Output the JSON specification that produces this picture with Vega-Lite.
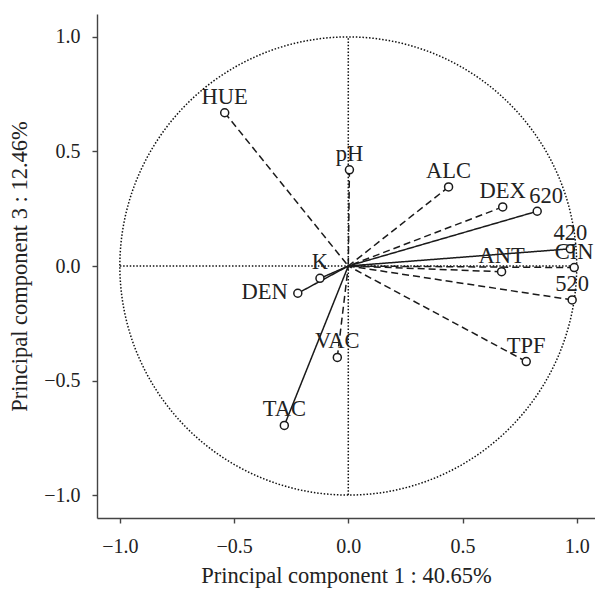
{
  "$schema": "https://vega.github.io/schema/vega-lite/v6.json",
  "autosize": "none",
  "padding": {"left": 97, "top": 14, "right": 0, "bottom": 76},
  "width": 498,
  "height": 504,
  "background": "white",
  "config": {
    "view": {"stroke": null},
    "font": "Liberation Serif",
    "axis": {
      "grid": false,
      "domainColor": "#444",
      "domainWidth": 1.4,
      "tickColor": "#444",
      "tickWidth": 1.4,
      "tickSize": 5,
      "labelFont": "Liberation Serif",
      "labelFontSize": 20,
      "labelColor": "#222",
      "titleFont": "Liberation Serif",
      "titleFontSize": 22.5,
      "titleFontWeight": "normal",
      "titleColor": "#222"
    }
  },
  "datasets": {
    "vars": [
      {"name": "HUE", "pc1": -0.541, "pc3": 0.669, "group": "B", "pos": "top"},
      {"name": "pH", "pc1": 0.005, "pc3": 0.42, "group": "B", "pos": "top"},
      {"name": "ALC", "pc1": 0.439, "pc3": 0.345, "group": "B", "pos": "top"},
      {"name": "DEX", "pc1": 0.676, "pc3": 0.258, "group": "B", "pos": "top"},
      {"name": "620", "pc1": 0.827, "pc3": 0.239, "group": "A", "pos": "topright"},
      {"name": "420", "pc1": 0.972, "pc3": 0.075, "group": "A", "pos": "top"},
      {"name": "CIN", "pc1": 0.989, "pc3": -0.007, "group": "B", "pos": "top"},
      {"name": "ANT", "pc1": 0.671, "pc3": -0.025, "group": "B", "pos": "top"},
      {"name": "520", "pc1": 0.98, "pc3": -0.148, "group": "B", "pos": "top"},
      {"name": "TPF", "pc1": 0.779, "pc3": -0.417, "group": "B", "pos": "top"},
      {"name": "VAC", "pc1": -0.048, "pc3": -0.399, "group": "B", "pos": "top"},
      {"name": "TAC", "pc1": -0.28, "pc3": -0.696, "group": "A", "pos": "top"},
      {"name": "K", "pc1": -0.124, "pc3": -0.054, "group": "A", "pos": "top"},
      {"name": "DEN", "pc1": -0.221, "pc3": -0.119, "group": "A", "pos": "left"}
    ],
    "circle": [
      {"a": 0, "cx": 1, "cy": 0},
      {"a": 10, "cx": 0.9848, "cy": 0.1736},
      {"a": 20, "cx": 0.9397, "cy": 0.342},
      {"a": 30, "cx": 0.866, "cy": 0.5},
      {"a": 40, "cx": 0.766, "cy": 0.6428},
      {"a": 50, "cx": 0.6428, "cy": 0.766},
      {"a": 60, "cx": 0.5, "cy": 0.866},
      {"a": 70, "cx": 0.342, "cy": 0.9397},
      {"a": 80, "cx": 0.1736, "cy": 0.9848},
      {"a": 90, "cx": 0, "cy": 1},
      {"a": 100, "cx": -0.1736, "cy": 0.9848},
      {"a": 110, "cx": -0.342, "cy": 0.9397},
      {"a": 120, "cx": -0.5, "cy": 0.866},
      {"a": 130, "cx": -0.6428, "cy": 0.766},
      {"a": 140, "cx": -0.766, "cy": 0.6428},
      {"a": 150, "cx": -0.866, "cy": 0.5},
      {"a": 160, "cx": -0.9397, "cy": 0.342},
      {"a": 170, "cx": -0.9848, "cy": 0.1736},
      {"a": 180, "cx": -1, "cy": 0},
      {"a": 190, "cx": -0.9848, "cy": -0.1736},
      {"a": 200, "cx": -0.9397, "cy": -0.342},
      {"a": 210, "cx": -0.866, "cy": -0.5},
      {"a": 220, "cx": -0.766, "cy": -0.6428},
      {"a": 230, "cx": -0.6428, "cy": -0.766},
      {"a": 240, "cx": -0.5, "cy": -0.866},
      {"a": 250, "cx": -0.342, "cy": -0.9397},
      {"a": 260, "cx": -0.1736, "cy": -0.9848},
      {"a": 270, "cx": 0, "cy": -1},
      {"a": 280, "cx": 0.1736, "cy": -0.9848},
      {"a": 290, "cx": 0.342, "cy": -0.9397},
      {"a": 300, "cx": 0.5, "cy": -0.866},
      {"a": 310, "cx": 0.6428, "cy": -0.766},
      {"a": 320, "cx": 0.766, "cy": -0.6428},
      {"a": 330, "cx": 0.866, "cy": -0.5},
      {"a": 340, "cx": 0.9397, "cy": -0.342},
      {"a": 350, "cx": 0.9848, "cy": -0.1736}
    ]
  },
  "layer": [
    {
      "data": {"name": "circle"},
      "mark": {"type": "line", "interpolate": "cardinal-closed", "color": "#111", "strokeWidth": 1.5, "strokeDash": [1.5, 1.8]},
      "encoding": {
        "x": {"field": "cx", "type": "quantitative", "scale": {"domain": [-1.1, 1.08], "nice": false, "zero": false},
              "axis": {"values": [-1, -0.5, 0, 0.5, 1], "format": ".1f", "title": "Principal component 1 : 40.65%", "labelPadding": 13, "titlePadding": 8}},
        "y": {"field": "cy", "type": "quantitative", "scale": {"domain": [-1.1, 1.1], "nice": false, "zero": false},
              "axis": {"values": [-1, -0.5, 0, 0.5, 1], "format": ".1f", "title": "Principal component 3 : 12.46%", "labelPadding": 12, "titlePadding": 12}},
        "order": {"field": "a", "type": "quantitative"}
      }
    },
    {
      "data": {"values": [{}]},
      "mark": {"type": "rule", "color": "#111", "strokeWidth": 1.5, "strokeDash": [1.5, 1.8]},
      "encoding": {"x": {"datum": -1}, "x2": {"datum": 1}, "y": {"datum": 0}}
    },
    {
      "data": {"values": [{}]},
      "mark": {"type": "rule", "color": "#111", "strokeWidth": 1.5, "strokeDash": [1.5, 1.8]},
      "encoding": {"y": {"datum": -1}, "y2": {"datum": 1}, "x": {"datum": 0}}
    },
    {
      "data": {"name": "vars"},
      "mark": {"type": "rule", "color": "#1a1a1a", "strokeWidth": 1.5},
      "encoding": {
        "x": {"field": "pc1", "type": "quantitative"},
        "y": {"field": "pc3", "type": "quantitative"},
        "x2": {"datum": 0},
        "y2": {"datum": 0},
        "strokeDash": {"field": "group", "type": "nominal", "scale": {"domain": ["A", "B"], "range": [[1, 0], [7, 4]]}, "legend": null}
      }
    },
    {
      "data": {"name": "vars"},
      "mark": {"type": "point", "shape": "circle", "filled": true, "fill": "white", "stroke": "#1a1a1a", "strokeWidth": 1.5, "size": 64, "opacity": 1},
      "encoding": {
        "x": {"field": "pc1", "type": "quantitative"},
        "y": {"field": "pc3", "type": "quantitative"}
      }
    },
    {
      "data": {"name": "vars"},
      "transform": [{"filter": "datum.pos === 'top'"}],
      "mark": {"type": "text", "font": "Liberation Serif", "fontSize": 22.5, "color": "#222", "align": "center", "baseline": "alphabetic", "dy": -9},
      "encoding": {
        "x": {"field": "pc1", "type": "quantitative"},
        "y": {"field": "pc3", "type": "quantitative"},
        "text": {"field": "name", "type": "nominal"}
      }
    },
    {
      "data": {"name": "vars"},
      "transform": [{"filter": "datum.pos === 'topright'"}],
      "mark": {"type": "text", "font": "Liberation Serif", "fontSize": 22.5, "color": "#222", "align": "left", "baseline": "alphabetic", "dx": -8, "dy": -8},
      "encoding": {
        "x": {"field": "pc1", "type": "quantitative"},
        "y": {"field": "pc3", "type": "quantitative"},
        "text": {"field": "name", "type": "nominal"}
      }
    },
    {
      "data": {"name": "vars"},
      "transform": [{"filter": "datum.pos === 'left'"}],
      "mark": {"type": "text", "font": "Liberation Serif", "fontSize": 22.5, "color": "#222", "align": "right", "baseline": "middle", "dx": -10, "dy": -1},
      "encoding": {
        "x": {"field": "pc1", "type": "quantitative"},
        "y": {"field": "pc3", "type": "quantitative"},
        "text": {"field": "name", "type": "nominal"}
      }
    }
  ]
}
